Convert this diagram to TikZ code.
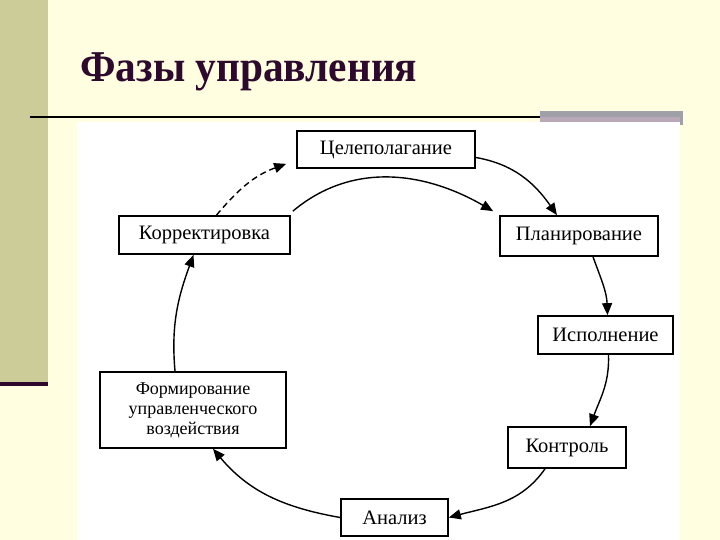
\documentclass[tikz,border=0pt]{standalone}
\usepackage{fontspec}
\setmainfont{Liberation Serif}
\newfontfamily\titlefont[FakeStretch=0.94]{Liberation Serif}
\usetikzlibrary{arrows.meta,calc}
\definecolor{bgyellow}{RGB}{255,254,224}
\definecolor{olive}{RGB}{204,204,153}
\definecolor{darkpurple}{RGB}{45,10,45}
\definecolor{bargray}{RGB}{160,160,168}
\definecolor{barpink}{RGB}{184,168,184}
\tikzset{
  phase/.style={draw=black, line width=1.7pt, fill=white, inner sep=0pt, font=\fontsize{20.5}{22}\selectfont, align=center},
  phasemulti/.style={phase, font=\fontsize{18}{20}\selectfont},
  flow/.style={line width=1.4pt, -{Triangle[length=12pt,width=10pt]}},
}
\begin{document}
\begin{tikzpicture}[x=1pt,y=1pt]
\useasboundingbox (0,0) rectangle (720,540);
% background
\fill[bgyellow] (0,0) rectangle (720,540);
\fill[olive] (0,158) rectangle (48,540);
\fill[darkpurple] (0,154) rectangle (48,158);
\fill[white] (77,0) rectangle (680,418);
\fill[bargray] (540,423) rectangle (683,429);
\fill[barpink] (540,418) rectangle (683,423);
\fill[bargray] (680,415) rectangle (683,423);
\draw[black, line width=2.5pt] (30,423) -- (540,423);
% title
\node[anchor=base west, inner sep=0pt, text=darkpurple, font=\titlefont\fontsize{44}{50}\selectfont\bfseries] (title) at (80,458) {Фазы управления};
% boxes
\node[phase, minimum width=178, minimum height=37] (cel) at (386,390.5) {Целеполагание};
\node[phase, minimum width=171, minimum height=38] (korr) at (204.5,305) {Корректировка};
\node[phase, minimum width=158, minimum height=40] (plan) at (579,304) {Планирование};
\node[phase, minimum width=135, minimum height=38] (isp) at (605.5,205) {Исполнение};
\node[phase, minimum width=118, minimum height=41] (kont) at (567,92.5) {Контроль};
\node[phase, minimum width=107, minimum height=37] (anal) at (394.5,22.5) {Анализ};
\node[phasemulti, minimum width=186, minimum height=76] (form) at (193,130) {Формирование\\управленческого\\воздействия};
% connectors
\draw[flow, dash pattern=on 6pt off 4pt] ([xshift=12pt]korr.north) to[out=50,in=200] ([xshift=-10pt,yshift=5pt]cel.south west);
\draw[flow] ([xshift=2pt,yshift=4pt]korr.north east) to[out=40,in=150] ([xshift=-6pt,yshift=4pt]plan.north west);
\draw[flow] ([yshift=-8pt]cel.east) to[out=-10,in=125] ([xshift=-22pt]plan.north);
\draw[flow] ([xshift=14pt]plan.south) to[out=-70,in=92] ([xshift=2pt]isp.north);
\draw[flow] ([xshift=3pt]isp.south) to[out=-88,in=70] ([xshift=23pt]kont.north);
\draw[flow] ([xshift=-22pt]kont.south) to[out=-125,in=15] (anal.east);
\draw[flow] (anal.west) to[out=170,in=-50] ([xshift=20pt]form.south);
\draw[flow] ([xshift=-18pt]form.north) to[out=95,in=-110] ([xshift=-11pt]korr.south);
\end{tikzpicture}
\end{document}
